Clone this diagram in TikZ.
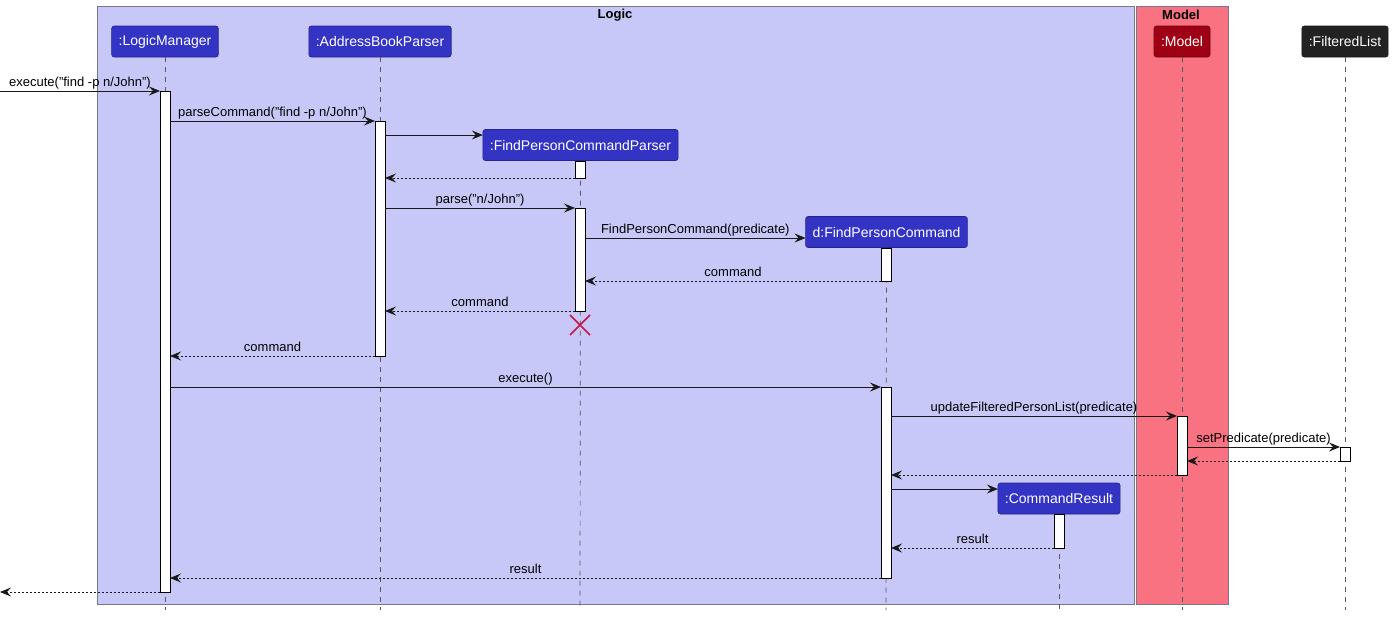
\documentclass[tikz,border=0pt]{standalone}
\usepackage{fontspec}
\setmainfont{Liberation Sans}
\usetikzlibrary{arrows.meta}
\definecolor{logicbg}{RGB}{200,200,248}
\definecolor{modelbg}{RGB}{249,114,130}
\definecolor{partblue}{RGB}{51,51,196}
\definecolor{partred}{RGB}{158,0,20}
\definecolor{partdark}{RGB}{34,34,34}
\definecolor{boxline}{RGB}{120,120,140}
\definecolor{xred}{RGB}{196,20,70}
\tikzset{
  part/.style={rounded corners=2.5pt, draw=#1!70!black, fill=#1, text=white, font=\fontsize{14}{16}\selectfont, inner xsep=7pt, minimum height=31pt, line width=0.6pt, outer sep=0pt},
  life/.style={draw=black!65, dash pattern=on 5pt off 5pt, line width=0.7pt},
  act/.style={draw=black, fill=white, line width=1pt, minimum width=10pt, inner sep=0pt, outer sep=0pt, anchor=north},
  msg/.style={draw=black!90, line width=1pt, -{Stealth[length=11pt,width=9pt,inset=4pt]}},
  ret/.style={msg, dash pattern=on 2pt off 2pt},
  lbl/.style={font=\fontsize{13}{15}\selectfont, anchor=base, inner sep=0pt, yshift=5pt},
  grp/.style={draw=boxline, line width=1pt},
  gtitle/.style={font=\fontsize{13}{15}\selectfont\bfseries, inner sep=0pt}
}
\begin{document}
\begin{tikzpicture}[x=1pt,y=-1pt]
\useasboundingbox (0,0) rectangle (1394,616);
% groups
\draw[grp, fill=logicbg] (97,6) rectangle (1134,604);
\draw[grp, fill=modelbg] (1136,6) rectangle (1228,604);
\node[gtitle] (tlogic) at (615,15) {Logic};
\node[gtitle] (tmodel) at (1181,15) {Model};
% participants
\node[part=partblue] (lm) at (165,41.5) {:LogicManager};
\node[part=partblue] (abp) at (380,41.5) {:AddressBookParser};
\node[part=partblue] (fpcp) at (580.5,145) {:FindPersonCommandParser};
\node[part=partblue] (fpc) at (886.5,232) {d:FindPersonCommand};
\node[part=partblue] (cr) at (1059,498.5) {:CommandResult};
\node[part=partred] (model) at (1182,41.5) {:Model};
\node[part=partdark] (fl) at (1345,41.5) {:FilteredList};
% lifeline ends
\coordinate (lmE) at (165,610);
\coordinate (abpE) at (380,610);
\coordinate (fpcpE) at (580,610);
\coordinate (fpcE) at (886,610);
\coordinate (crE) at (1059,610);
\coordinate (modelE) at (1182,610);
\coordinate (flE) at (1345,610);
\draw[life] (lm.south) -- (lmE);
\draw[life] (abp.south) -- (abpE);
\draw[life] (fpcp.south) -- (fpcpE);
\draw[life] (fpc.south) -- (fpcE);
\draw[life] (cr.south) -- (crE);
\draw[life] (model.south) -- (modelE);
\draw[life] (fl.south) -- (flE);
% activations
\node[act, minimum height=501pt] (lmA) at (165,91) {};
\node[act, minimum height=235pt] (abpA) at (380,121) {};
\node[act, minimum height=17pt] (fpcpA1) at (580,161) {};
\node[act, minimum height=103pt] (fpcpA2) at (580,208) {};
\node[act, minimum height=33pt] (fpcA1) at (886,248) {};
\node[act, minimum height=191pt] (fpcA2) at (886,387) {};
\node[act, minimum height=59pt] (modelA) at (1182,416) {};
\node[act, minimum height=14pt] (flA) at (1345,447) {};
\node[act, minimum height=34pt] (crA) at (1059,514) {};
% external endpoints
\coordinate (inS) at (0,91);
\coordinate (outE) at (0,592);
% messages
\draw[msg] (inS) -- (lmA.north west) node[lbl, pos=0.5] {execute("find -p n/John")};
\draw[msg] (lmA.east |- 0,121) -- (abpA.north west) node[lbl, midway] {parseCommand("find -p n/John")};
\draw[msg] (abpA.east |- 0,135) -- (fpcp.west |- 0,135);
\draw[ret] (fpcpA1.south west) -- (abpA.east |- 0,178);
\draw[msg] (abpA.east |- 0,208) -- (fpcpA2.north west) node[lbl, midway] {parse("n/John")};
\draw[msg] (fpcpA2.east |- 0,238) -- (fpc.west |- 0,238) node[lbl, midway] {FindPersonCommand(predicate)};
\draw[ret] (fpcA1.south west) -- (fpcpA2.east |- 0,281) node[lbl, midway] {command};
\draw[ret] (fpcpA2.south west) -- (abpA.east |- 0,311) node[lbl, midway] {command};
\draw[xred, line width=1.6pt] (570,315) -- (590,335) (570,335) -- (590,315);
\draw[ret] (abpA.south west) -- (lmA.east |- 0,356) node[lbl, midway] {command};
\draw[msg] (lmA.east |- 0,387) -- (fpcA2.north west) node[lbl, midway] {execute()};
\draw[msg] (fpcA2.east |- 0,416) -- (modelA.north west) node[lbl, midway] {updateFilteredPersonList(predicate)};
\draw[msg] (modelA.east |- 0,447) -- (flA.north west) node[lbl, midway] {setPredicate(predicate)};
\draw[ret] (flA.south west) -- (modelA.east |- 0,461);
\draw[ret] (modelA.south west) -- (fpcA2.east |- 0,475);
\draw[msg] (fpcA2.east |- 0,489) -- (cr.west |- 0,489);
\draw[ret] (crA.south west) -- (fpcA2.east |- 0,548) node[lbl, midway] {result};
\draw[ret] (fpcA2.south west) -- (lmA.east |- 0,578) node[lbl, midway] {result};
\draw[ret] (lmA.south west) -- (outE);
\end{tikzpicture}
\end{document}
